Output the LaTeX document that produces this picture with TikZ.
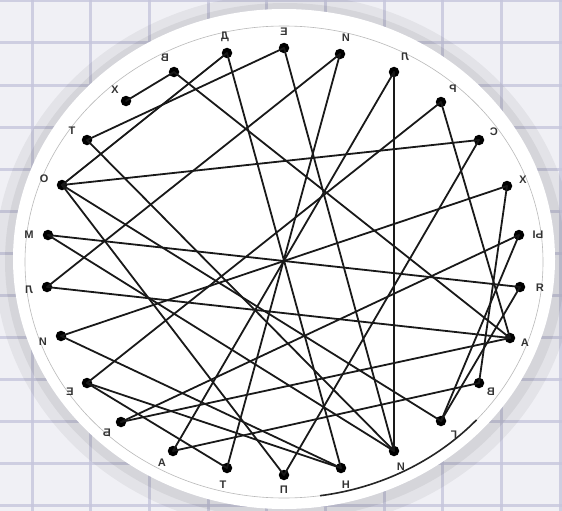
\documentclass[tikz,border=0pt]{standalone}
\usepackage{fontspec}
\newfontfamily\cyrfont{Liberation Sans}
\definecolor{paper}{RGB}{240,240,245}
\definecolor{gridc}{RGB}{198,198,220}
\tikzset{
  dot/.style={circle, fill=black, inner sep=0pt, minimum size=10.5pt},
  lbl/.style={font=\cyrfont\bfseries\fontsize{11}{12}\selectfont, text=black!80, inner sep=0pt},
  link/.style={line width=1.8pt, black!90, line cap=round},
  gridline/.style={gridc, line width=3pt, opacity=0.8}
}

\begin{document}
\begin{tikzpicture}[x=1pt, y=-1pt]
  \useasboundingbox (0,0) rectangle (562,511);

  %% Graph paper and the shadow of the disc
  \fill[paper] (0,0) rectangle (562,511);
  \foreach \i in {0,...,9}
    \draw[gridline] ({32+58.7*\i},0) -- ++(0,511);
  \foreach \j in {0,...,12}
    \draw[gridline] (0,{1+42*\j}) -- ++(562,0);
  \fill[black, opacity=0.05] (285,262) ellipse [x radius=290, y radius=268];
  \fill[black, opacity=0.06] (285,261) ellipse [x radius=280, y radius=258];

  %% Disc with its thin rim
  \fill[white] (284,259) ellipse [x radius=271, y radius=250];
  \draw[gray!55, line width=0.6pt] (284,262) ellipse [x radius=259, y radius=236];
  \draw[black!85, line width=1.6pt] (284,262) ++(42:259 and 236)
    arc[start angle=42, end angle=82, x radius=259, y radius=236];

  %% Dots and their (mirrored) letters
  \foreach \n/\x/\y/\lx/\ly/\t in {
      e1/284/48/284/32/Е, i1/340/54/346/38/И, l1/394/72/405/57/Л,
      r/441/102/453/89/Р, s/479/140/494/132/С, x2/507/186/523/180/Х,
      y/519/235/538/235/Ы, ya/520/287/540/288/Я, a1/510/338/525/343/А,
      v2/479/383/491/392/В, g/441/421/454/435/Г, i2/394/451/401/467/И,
      n/341/468/346/485/Н, p/284/475/284/490/П, t1/227/468/223/485/Т,
      a2/173/451/162/463/А, b/121/422/107/433/Б, e2/87/383/70/392/Е,
      i3/61/336/43/342/И, l2/47/287/29/290/Л, m/48/235/29/235/М,
      o/62/185/44/179/О, t2/87/140/72/131/Т, x1/126/101/115/90/Х,
      v1/174/72/165/58/В, d/227/53/225/37/Д} {
    \node[dot] (\n) at (\x,\y) {};
    \node[lbl] (\n-t) at (\lx,\ly) {\reflectbox{\t}};
  }

  %% Chords
  \foreach \a/\b in {x1/v1, v1/a1, d/o, d/n, t2/e1, e1/i2, i1/l2, i1/t1,
      l1/i2, l1/a2, r/a1, r/e2, s/o, s/p, x2/i3, x2/v2, y/g, y/b,
      ya/m, ya/g, l2/a1, b/a1, a2/v2, e2/t1, o/p, o/g, t2/i2, m/i2,
      i3/n, e2/n}
    \draw[link] (\a.center) -- (\b.center);
\end{tikzpicture}
\end{document}
